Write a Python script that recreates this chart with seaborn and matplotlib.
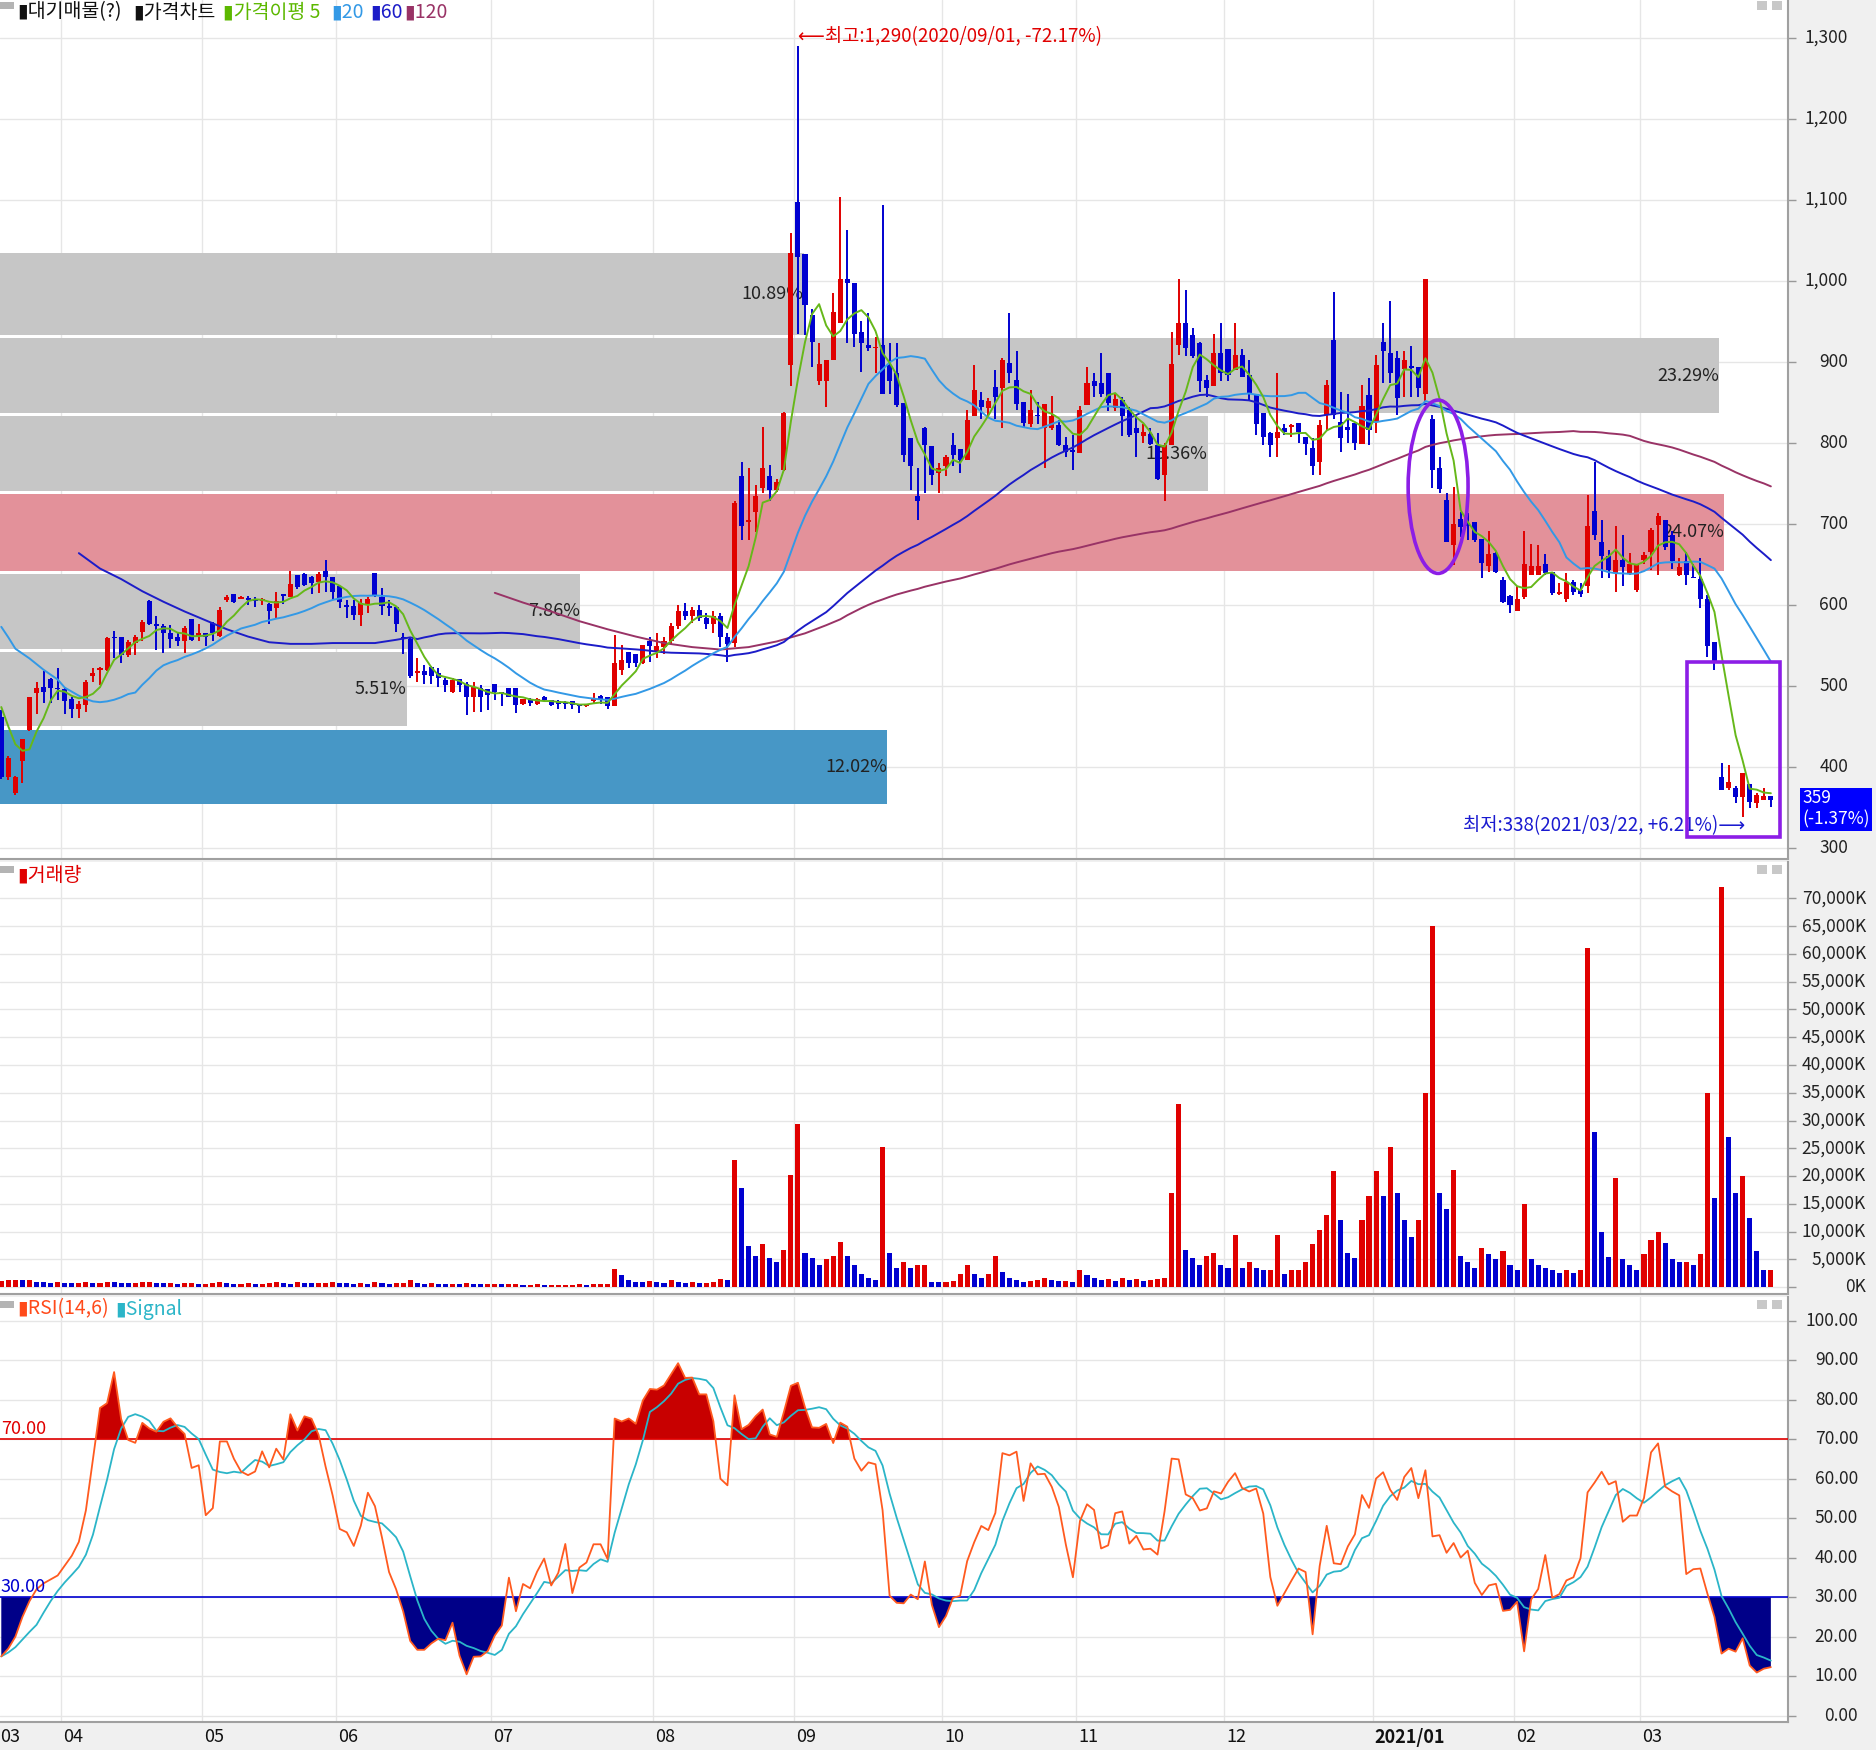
import numpy as np
import pandas as pd
import matplotlib.pyplot as plt
import matplotlib.transforms as mtransforms
from matplotlib.patches import Rectangle, Ellipse
import seaborn as sns

# daily candles 2020/03/19 .. 2021/03/26 (won)
opens = [
    462, 388, 368, 407, 446, 491, 499, 509, 498, 496,
    484, 472, 477, 512, 520, 520, 561, 560, 538, 553,
    567, 605, 577, 574, 566, 561, 555, 583, 562, 565,
    578, 562, 606, 613, 608, 609, 607, 605, 601, 596,
    613, 610, 637, 638, 635, 628, 642, 634, 623, 600,
    599, 588, 600, 639, 610, 599, 598, 561, 558, 516,
    518, 524, 516, 507, 492, 509, 503, 487, 497, 496,
    502, 492, 498, 498, 478, 484, 478, 487, 483, 481,
    479, 481, 476, 475, 481, 488, 487, 475, 520, 542,
    540, 528, 555, 542, 548, 556, 574, 592, 586, 594,
    584, 576, 586, 560, 553, 759, 702, 715, 744, 759,
    742, 767, 896, 1098, 1033, 958, 876, 876, 903, 948,
    1003, 997, 937, 921, 917, 921, 896, 886, 849, 806,
    734, 818, 796, 763, 771, 798, 793, 779, 833, 853,
    843, 869, 868, 899, 878, 850, 824, 835, 818, 818,
    822, 798, 791, 788, 847, 876, 874, 887, 843, 853,
    841, 818, 809, 811, 798, 761, 798, 921, 948, 933,
    923, 878, 870, 911, 916, 890, 909, 884, 861, 837,
    812, 806, 818, 820, 825, 807, 794, 777, 835, 927,
    826, 820, 825, 799, 859, 826, 925, 911, 905, 891,
    895, 894, 861, 829, 769, 730, 674, 706, 700, 702,
    681, 648, 664, 631, 611, 592, 610, 637, 637, 651,
    641, 614, 608, 628, 619, 623, 716, 678, 661, 639,
    656, 639, 618, 656, 666, 699, 705, 687, 637, 654,
    635, 632, 608, 554, 388, 374, 374, 363, 379, 356,
    359, 364,
]
highs = [
    470, 414, 389, 435, 487, 505, 518, 510, 522, 499,
    487, 481, 507, 522, 524, 560, 568, 560, 557, 563,
    582, 606, 586, 577, 575, 565, 574, 583, 577, 565,
    579, 598, 612, 614, 611, 611, 610, 609, 602, 616,
    614, 642, 637, 640, 636, 641, 655, 635, 624, 606,
    606, 608, 610, 640, 621, 606, 598, 565, 560, 534,
    526, 525, 522, 510, 510, 509, 505, 505, 501, 496,
    502, 492, 498, 498, 484, 485, 485, 488, 483, 483,
    481, 481, 477, 478, 491, 489, 487, 563, 551, 542,
    540, 551, 561, 566, 560, 578, 600, 603, 598, 600,
    590, 592, 590, 565, 728, 777, 769, 748, 820, 773,
    755, 838, 1059, 1290, 1033, 966, 923, 903, 985, 1104,
    1063, 997, 950, 960, 931, 1094, 923, 923, 849, 806,
    769, 820, 796, 775, 785, 812, 793, 841, 896, 863,
    855, 890, 905, 960, 913, 850, 865, 851, 848, 858,
    828, 808, 810, 846, 894, 886, 911, 887, 861, 857,
    845, 833, 824, 818, 812, 800, 937, 1003, 989, 942,
    925, 884, 935, 948, 916, 948, 916, 903, 861, 837,
    814, 886, 824, 824, 825, 808, 806, 828, 878, 987,
    863, 861, 825, 872, 880, 909, 948, 975, 913, 913,
    920, 894, 1003, 835, 783, 738, 746, 715, 713, 703,
    681, 691, 665, 634, 612, 623, 691, 675, 674, 663,
    641, 627, 640, 631, 627, 736, 777, 705, 668, 698,
    686, 664, 651, 665, 695, 713, 705, 691, 658, 666,
    651, 658, 612, 554, 405, 403, 376, 392, 379, 368,
    374, 364,
]
lows = [
    385, 384, 365, 380, 445, 466, 479, 479, 483, 466,
    460, 460, 468, 505, 501, 518, 534, 528, 536, 538,
    555, 575, 544, 541, 547, 549, 541, 555, 555, 549,
    555, 561, 604, 602, 607, 600, 598, 600, 577, 584,
    601, 610, 620, 624, 614, 615, 616, 606, 596, 584,
    582, 574, 590, 610, 588, 586, 567, 540, 510, 505,
    503, 503, 499, 493, 491, 493, 464, 468, 468, 470,
    483, 475, 486, 467, 476, 475, 477, 481, 475, 471,
    472, 472, 467, 474, 479, 478, 471, 475, 514, 522,
    524, 527, 530, 534, 540, 552, 570, 582, 578, 580,
    570, 566, 548, 530, 548, 680, 680, 690, 738, 728,
    740, 765, 870, 935, 933, 894, 872, 845, 903, 948,
    923, 919, 888, 913, 886, 861, 861, 845, 777, 742,
    705, 738, 748, 738, 759, 771, 763, 779, 833, 830,
    833, 830, 818, 874, 841, 818, 820, 824, 769, 816,
    796, 783, 767, 788, 847, 857, 857, 839, 839, 809,
    808, 783, 800, 798, 754, 728, 798, 909, 907, 905,
    863, 857, 870, 876, 876, 890, 882, 853, 810, 798,
    783, 783, 810, 808, 800, 785, 761, 761, 816, 830,
    789, 800, 791, 799, 798, 812, 874, 874, 835, 857,
    857, 857, 851, 744, 738, 678, 649, 684, 680, 678,
    633, 641, 640, 602, 590, 592, 608, 637, 637, 637,
    612, 612, 604, 612, 610, 615, 680, 633, 633, 616,
    623, 637, 616, 651, 643, 637, 668, 645, 636, 625,
    633, 596, 536, 520, 372, 372, 355, 338, 349, 349,
    359, 351,
]
closes = [
    388, 411, 388, 435, 487, 498, 493, 497, 496, 481,
    472, 478, 505, 516, 522, 559, 559, 538, 554, 561,
    579, 577, 574, 565, 558, 555, 572, 557, 566, 561,
    566, 594, 610, 604, 610, 606, 605, 607, 592, 605,
    611, 626, 622, 625, 627, 638, 634, 616, 604, 598,
    588, 602, 608, 612, 599, 596, 577, 559, 512, 518,
    514, 512, 510, 501, 507, 501, 487, 499, 487, 489,
    492, 490, 487, 477, 484, 479, 484, 483, 477, 478,
    478, 477, 475, 478, 485, 483, 475, 528, 532, 528,
    528, 551, 549, 549, 556, 574, 592, 586, 594, 584,
    576, 586, 560, 552, 726, 697, 705, 735, 769, 742,
    752, 837, 1034, 1030, 970, 925, 898, 903, 962, 1003,
    997, 935, 923, 917, 919, 861, 876, 847, 785, 771,
    728, 798, 761, 769, 783, 785, 779, 828, 865, 845,
    852, 857, 903, 886, 848, 825, 841, 833, 848, 833,
    798, 789, 789, 841, 874, 870, 861, 849, 854, 833,
    810, 812, 813, 799, 756, 798, 898, 948, 917, 907,
    876, 868, 911, 886, 884, 909, 882, 861, 824, 808,
    798, 814, 814, 822, 813, 799, 771, 822, 872, 835,
    806, 816, 800, 846, 816, 896, 913, 886, 856, 903,
    893, 868, 1003, 767, 743, 678, 700, 696, 697, 680,
    652, 663, 641, 604, 600, 608, 651, 648, 648, 639,
    615, 616, 628, 616, 614, 697, 686, 660, 643, 656,
    647, 651, 651, 662, 692, 710, 672, 654, 647, 637,
    633, 608, 549, 530, 372, 382, 363, 392, 357, 366,
    364, 359,
]
# volume in K shares
volumes = [
    1100, 1200, 1300, 1200, 1300, 1000, 900, 800, 900, 800,
    700, 700, 900, 800, 800, 1000, 900, 800, 700, 800,
    900, 1000, 800, 700, 700, 600, 700, 800, 600, 600,
    700, 900, 800, 600, 600, 700, 600, 600, 700, 900,
    700, 600, 900, 800, 700, 700, 800, 900, 800, 700,
    600, 700, 600, 1000, 700, 600, 700, 800, 1300, 800,
    600, 700, 600, 500, 600, 500, 700, 600, 500, 500,
    600, 500, 500, 600, 400, 400, 500, 400, 400, 400,
    400, 400, 500, 400, 500, 500, 600, 3300, 2100, 1300,
    1000, 900, 1100, 900, 800, 1300, 1000, 800, 900, 700,
    800, 1000, 1400, 1200, 22900, 17900, 7400, 5600, 7800, 5200,
    4500, 6700, 20100, 29300, 6100, 5200, 3900, 5000, 5600, 8200,
    5600, 3900, 2400, 1700, 1300, 25200, 6100, 3400, 4500, 3400,
    3900, 3900, 1000, 900, 900, 1100, 2400, 3900, 2400, 1700,
    2400, 5600, 2800, 1700, 1300, 900, 1100, 1300, 1700, 1300,
    1100, 1100, 900, 3000, 2200, 1700, 1300, 1500, 1100, 1700,
    1300, 1500, 1100, 1300, 1500, 1700, 17000, 33000, 6700, 5200,
    3900, 5600, 6100, 3900, 3400, 9300, 3400, 4500, 3400, 3000,
    3000, 9300, 2400, 3000, 3000, 4500, 7800, 10300, 13000, 20900,
    12100, 6100, 5200, 12100, 16400, 20900, 16400, 25200, 17000, 12000,
    9000, 12000, 35000, 65000, 17000, 14000, 21000, 5600, 4500, 3500,
    7000, 6000, 5000, 6500, 4000, 3000, 15000, 5000, 4000, 3500,
    3000, 2500, 3000, 2500, 3000, 61000, 28000, 10000, 5500, 19600,
    5000, 4000, 3000, 6000, 8400, 9900, 8000, 5000, 4500, 4500,
    4000, 6000, 35000, 16000, 72000, 27000, 17000, 20000, 12500, 6500,
    3000, 3100,
]

# averages before enough history is on screen
ma5_head = [474, 450, 428, 420]
ma20_head = [573, 560, 546, 540, 534, 527, 520, 514, 508, 498,
             493, 488, 484, 481, 480, 481, 483, 486, 490]
ma60_head_idx = [11, 14, 17, 20, 23, 26, 29, 32, 35, 38, 41, 44, 47, 50, 53, 56, 58]
ma60_head = [664, 645, 632, 617, 604, 592, 581, 570, 561, 554, 552, 552, 553, 553, 553, 557, 560]
ma120_head_idx = [70, 74, 78, 82, 86, 90, 94, 98, 102, 106, 110, 114, 117]
ma120_head = [615, 603, 592, 580, 570, 561, 553, 548, 545, 548, 555, 565, 575]
rsi_head = [15, 17, 20, 25, 29, 32, 33.5, 34.5, 35.5, 38, 40.5, 44, 52, 65]

month_labels = ["03", "04", "05", "06", "07", "08", "09", "10", "11", "12", "2021/01", "02", "03"]
month_start = [0, 9, 29, 48, 70, 93, 113, 134, 153, 174, 195, 215, 233]

# volume-at-price boxes (대기매물)
band_low = [354, 450, 546, 642, 741, 837, 933]
band_high = [446, 542, 638, 737, 833, 929, 1034]
band_pct = [12.02, 5.51, 7.86, 24.07, 16.36, 23.29, 10.89]

sns.set_theme(style="white")
plt.rcParams['font.family'] = ['Noto Sans CJK KR', 'DejaVu Sans']
plt.rcParams['axes.unicode_minus'] = False

RED = '#e00000'
BLUE = '#0000d0'
W, H = 1876, 1750
XL = (-0.184, 253.43)

fig = plt.figure(figsize=(W / 100, H / 100), dpi=100, facecolor='#f0f0f0')


def axrect(top, bottom):
    return [0, 1 - bottom / H, 1788 / W, (bottom - top) / H]


ax_p = fig.add_axes(axrect(0, 859))
ax_v = fig.add_axes(axrect(862, 1294))
ax_r = fig.add_axes(axrect(1297, 1722))

for ax in (ax_p, ax_v, ax_r):
    ax.set_facecolor('white')
    for s in ('top', 'left'):
        ax.spines[s].set_visible(False)
    for s in ('right', 'bottom'):
        ax.spines[s].set_color('#a0a0a0')
        ax.spines[s].set_linewidth(1.5)
    ax.set_xticks([])
    for ms in month_start[1:]:
        ax.axvline(ms - 0.5, color='#e6e6e6', lw=1, zorder=0)

n = len(closes)
idx = np.arange(n)
o = np.array(opens, float)
h = np.array(highs, float)
l = np.array(lows, float)
c = np.array(closes, float)
close_s = pd.Series(c)


def right_labels(ax, vals, texts, xr):
    tr = mtransforms.blended_transform_factory(ax.transAxes, ax.transData)
    for v, t in zip(vals, texts):
        ax.text(xr, v, t, transform=tr, ha='right', va='center', fontsize=12.5,
                color='#222222', clip_on=False)
    ax.set_yticks(vals)
    ax.tick_params(axis='y', right=True, left=False, labelleft=False, labelright=False,
                   length=6, width=1, color='#999999', direction='out')


# ---------------- price panel ----------------
pticks = list(range(300, 1400, 100))
for v in pticks:
    ax_p.axhline(v, color='#e6e6e6', lw=1, zorder=0)
right_labels(ax_p, pticks, [f'{v:,}' for v in pticks], 1848 / 1788)

cur_band = [k for k in range(len(band_low)) if band_low[k] <= closes[-1] <= band_high[k]][0]
max_band = int(np.argmax(band_pct))
for k in range(len(band_low)):
    if k == cur_band:
        fc = '#4797c6'
    elif k == max_band:
        fc = '#e3919a'
    else:
        fc = '#c6c6c6'
    length = min(band_pct[k] * 10.47, 244.6)
    ax_p.add_patch(Rectangle((XL[0], band_low[k]), length, band_high[k] - band_low[k],
                             facecolor=fc, lw=0, zorder=1))
    ax_p.text(XL[0] + length, (band_low[k] + band_high[k]) / 2, f'{band_pct[k]:.2f}%',
              ha='right', va='center', fontsize=13, color='#222222', zorder=2)

# candles
ccol = np.where(c >= o, RED, BLUE)
ax_p.vlines(idx, l, h, colors=ccol, lw=1.4, zorder=4)
ax_p.bar(idx, np.maximum(np.abs(c - o), 2), bottom=np.minimum(o, c), width=0.72,
         color=ccol, lw=0, zorder=4)

# moving averages
ma5 = close_s.rolling(5).mean()
ma5.iloc[:4] = ma5_head
ma20 = close_s.rolling(20).mean()
ma20.iloc[:19] = ma20_head
ma60 = close_s.rolling(60).mean()
ma120 = close_s.rolling(120).mean()
ma60_x = list(ma60_head_idx) + list(idx[59:])
ma60_y = list(ma60_head) + list(ma60.values[59:])
ma120_x = list(ma120_head_idx) + list(idx[119:])
ma120_y = list(ma120_head) + list(ma120.values[119:])

sns.lineplot(x=ma120_x, y=ma120_y, ax=ax_p, color='#993366', lw=1.4, zorder=5)
sns.lineplot(x=ma60_x, y=ma60_y, ax=ax_p, color='#1c1cc8', lw=1.4, zorder=5)
sns.lineplot(x=idx, y=ma20.values, ax=ax_p, color='#3399e6', lw=1.4, zorder=5)
sns.lineplot(x=idx, y=ma5.values, ax=ax_p, color='#66b81a', lw=1.4, zorder=5)

ax_p.text(113, 1302, '⟵최고:1,290(2020/09/01, -72.17%)', color=RED, ha='left',
          va='center', fontsize=13.5, zorder=6)
ax_p.text(247.3, 328, '최저:338(2021/03/22, +6.21%)⟶', color='#1a1ad0', ha='right',
          va='center', fontsize=13.5, zorder=6)

ax_p.add_patch(Ellipse((203.8, 746), 8.5, 214, fill=False, edgecolor='#8c1ee6', lw=2.6, zorder=7))
ax_p.add_patch(Rectangle((239.1, 313), 13.2, 217, fill=False, edgecolor='#8c1ee6', lw=2.6,
                         zorder=7, clip_on=False))

trp = mtransforms.blended_transform_factory(ax_p.transAxes, ax_p.transData)
ax_p.add_patch(Rectangle((1800 / 1788, 321), 72 / 1788, 53, transform=trp, facecolor='#0000ff',
                         lw=0, clip_on=False, zorder=10))
ax_p.text(1802 / 1788, 362, f'{closes[-1]}', transform=trp, color='white', fontsize=12.5,
          ha='left', va='center', clip_on=False, zorder=11)
ax_p.text(1802 / 1788, 335, f'({(closes[-1] / closes[-2] - 1) * 100:.2f}%)', transform=trp,
          color='white', fontsize=12.5, ha='left', va='center', clip_on=False, zorder=11)

ax_p.set_ylim(286.4, 1346.9)

# ---------------- volume panel ----------------
vticks = list(range(0, 75000, 5000))
for v in vticks:
    ax_v.axhline(v, color='#e6e6e6', lw=1, zorder=0)
right_labels(ax_v, vticks, [f'{v:,}K' for v in vticks], 1866 / 1788)
vol = np.array(volumes, float)
vcol = [RED] + [RED if vol[i] >= vol[i - 1] else BLUE for i in range(1, n)]
ax_v.bar(idx, vol, width=0.72, color=vcol, lw=0, zorder=3)
ax_v.set_ylim(-1240, 76550)

# ---------------- RSI panel ----------------
delta = close_s.diff()
up_sum = delta.clip(lower=0).rolling(14).sum()
dn_sum = (-delta).clip(lower=0).rolling(14).sum()
rsi = 100 * up_sum / (up_sum + dn_sum)
rsi.iloc[:14] = rsi_head
signal = rsi.rolling(6, min_periods=1).mean()

rticks = list(range(0, 101, 10))
for v in rticks:
    ax_r.axhline(v, color='#e6e6e6', lw=1, zorder=0)
right_labels(ax_r, rticks, [f'{v:.2f}' for v in rticks], 1858 / 1788)

rv = rsi.values
ax_r.fill_between(idx, rv, 70, where=rv >= 70, interpolate=True, color='#c80000', lw=0, zorder=2)
ax_r.fill_between(idx, rv, 30, where=rv <= 30, interpolate=True, color='#000088', lw=0, zorder=2)
ax_r.axhline(70, color=RED, lw=1.2, zorder=3)
ax_r.axhline(30, color=BLUE, lw=1.2, zorder=3)
sns.lineplot(x=idx, y=signal.values, ax=ax_r, color='#2bb5c8', lw=1.3, zorder=4)
sns.lineplot(x=idx, y=rv, ax=ax_r, color='#ff5a1f', lw=1.3, zorder=5)
ax_r.text(XL[0] + 0.1, 70.3, '70.00', color=RED, fontsize=13, ha='left', va='bottom', zorder=6)
ax_r.text(XL[0] + 0.1, 30.3, '30.00', color=BLUE, fontsize=13, ha='left', va='bottom', zorder=6)
ax_r.set_ylim(-1.62, 106.03)

trx = mtransforms.blended_transform_factory(ax_r.transData, ax_r.transAxes)
for k, (lab, ms) in enumerate(zip(month_labels, month_start)):
    xpos = XL[0] + 0.05 if k == 0 else ms - 0.5 + 0.3
    ax_r.text(xpos, -0.036, lab, transform=trx, ha='left', va='center', fontsize=13,
              color='#111111', fontweight='bold' if '/' in lab else 'normal', clip_on=False)

for ax in (ax_p, ax_v, ax_r):
    ax.set_xlim(*XL)
    ax.set_xlabel('')
    ax.set_ylabel('')


# ---------------- legends and panel icons ----------------
def ftext(x, y, s, **kw):
    fig.text(x / W, 1 - y / H, s, va='center', ha='left', fontsize=14, **kw)


def fbox(x, y, w, hh, col):
    fig.add_artist(Rectangle((x / W, 1 - (y + hh) / H), w / W, hh / H, transform=fig.transFigure,
                             facecolor=col, lw=0))


ftext(17, 12, '▮대기매물(?)', color='#111111')
ftext(133, 12, '▮가격차트', color='#111111')
ftext(223, 12, '▮가격이평 5', color='#5cb800')
ftext(331, 12, '▮20', color='#3399e6')
ftext(370, 12, '▮60', color='#1c1cc8')
ftext(404, 12, '▮120', color='#993366')
ftext(17, 875, '▮거래량', color=RED)
ftext(17, 1309, '▮RSI(14,6)', color='#ff4a1a')
ftext(115, 1309, '▮Signal', color='#2bb5c8')

for top in (2, 866, 1301):
    fbox(0, top, 14, 7, '#b4b4b4')
    fbox(1757, top - 1, 10, 9, '#c8c8c8')
    fbox(1772, top - 1, 10, 9, '#c8c8c8')

fig.savefig('out.png', dpi=100, facecolor=fig.get_facecolor())
